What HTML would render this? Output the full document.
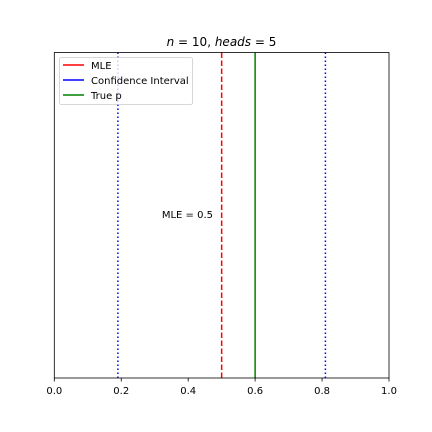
<!DOCTYPE html>
<html><head><meta charset="utf-8"><style>
body{margin:0;background:#fff;}
svg{display:block;font-family:"DejaVu Sans","Liberation Sans",sans-serif;}
</style></head><body>
<svg id="chart" width="432" height="432" xmlns="http://www.w3.org/2000/svg">
<text x="221.5" y="46" font-size="12" text-anchor="middle"><tspan font-style="italic">n</tspan> = 10, <tspan font-style="italic">heads</tspan> = 5</text>
<g id="marks"></g>
<rect x="54.3" y="52.5" width="334.7" height="325.5" fill="none" stroke="#000" stroke-width="0.8"/>
<g id="ticks"></g>
<text x="213" y="218" font-size="10" text-anchor="end">MLE = 0.5</text>
<g>
<rect x="59.5" y="57.5" width="133" height="47" rx="2" fill="#fff" fill-opacity="0.8" stroke="#ccc" stroke-width="0.8"/>
<line x1="63" y1="65" x2="84" y2="65" stroke="#ff0000" stroke-width="1.5"/>
<text x="91" y="69" font-size="10">MLE</text>
<line x1="63" y1="80" x2="84" y2="80" stroke="#0000ff" stroke-width="1.5"/>
<text x="91" y="84" font-size="10">Confidence Interval</text>
<line x1="63" y1="95" x2="84" y2="95" stroke="#008000" stroke-width="1.5"/>
<text x="91" y="99" font-size="10">True p</text>
</g>
</svg>
<script>
const ciBounds = [0.19, 0.81];
const mleValue = [0.5];
const trueP = [0.6];
const xTicks = [0, 0.2, 0.4, 0.6, 0.8, 1.0];
const xTickLabels = ["0.0","0.2","0.4","0.6","0.8","1.0"];
const X0=54.3, X1=389, Y0=52.5, Y1=378;
function sx(v){return X0+v*(X1-X0);}
const NS="http://www.w3.org/2000/svg";
const marks=document.getElementById('marks');
function vline(v,color,dash,name){
  const l=document.createElementNS(NS,'line');
  l.setAttribute('x1',sx(v));l.setAttribute('x2',sx(v));
  l.setAttribute('y1',Y0);l.setAttribute('y2',Y1);
  l.setAttribute('stroke',color);l.setAttribute('stroke-width','1.5');
  if(dash)l.setAttribute('stroke-dasharray',dash);
  
  
  marks.appendChild(l);
}
ciBounds.forEach((v,i)=>vline(v,'#0000ff','1.5,2.5',i?'ci-upper-line':'ci-lower-line'));
mleValue.forEach(v=>vline(v,'#ff0000','5.5,2.5','mle-line'));
trueP.forEach(v=>vline(v,'#008000',null,'true-p-line'));
const tg=document.getElementById('ticks');
xTicks.forEach((v,i)=>{
  const t=document.createElementNS(NS,'line');
  t.setAttribute('x1',sx(v));t.setAttribute('x2',sx(v));
  t.setAttribute('y1',Y1);t.setAttribute('y2',Y1+3.5);
  t.setAttribute('stroke','#000');t.setAttribute('stroke-width','0.8');
  
  
  tg.appendChild(t);
  const tx=document.createElementNS(NS,'text');
  tx.setAttribute('x',sx(v));tx.setAttribute('y',Y1+16);
  tx.setAttribute('font-size','10');tx.setAttribute('text-anchor','middle');
  tx.textContent=xTickLabels[i];
  
  
  tg.appendChild(tx);
});
</script>
</body></html>
